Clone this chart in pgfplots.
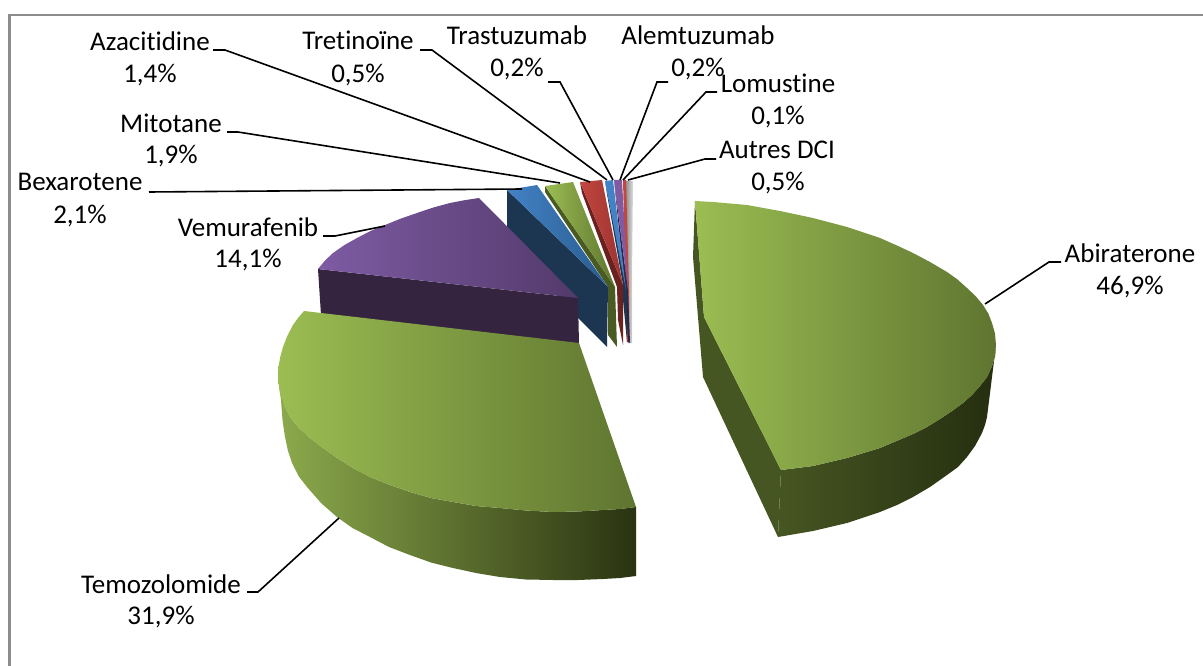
\documentclass[border=0pt]{standalone}
\usepackage{pgfplots}
\pgfplotsset{compat=1.18}
\usepackage{fontspec}
\setmainfont[Ligatures=NoCommon]{Carlito}
\definecolor{abL}{HTML}{9BBD52}
\definecolor{abR}{HTML}{5F7530}
\definecolor{abSL}{HTML}{465622}
\definecolor{abSR}{HTML}{252E10}
\definecolor{teSL}{HTML}{8CAA4C}
\definecolor{teSR}{HTML}{2A3311}
\definecolor{vemL}{HTML}{7E5BA3}
\definecolor{vemR}{HTML}{533A6B}
\definecolor{vemS}{HTML}{352440}
\definecolor{bexL}{HTML}{4382C6}
\definecolor{bexR}{HTML}{2A5C8F}
\definecolor{bexS}{HTML}{1C3551}
\definecolor{mitS}{HTML}{4A5A23}
\definecolor{redL}{HTML}{C4463F}
\definecolor{redR}{HTML}{9A3330}
\definecolor{redS}{HTML}{6A2220}
\definecolor{frameC}{HTML}{8C8C8C}
\tikzset{
  lead/.style={draw=black,line width=1.6pt,line join=miter},
  lab/.style={font=\fontsize{27}{27}\selectfont,text=black,inner sep=0pt,anchor=center},
}
\begin{document}
\begin{tikzpicture}
\path[use as bounding box] (0,0) rectangle (1203pt,666pt);
\begin{axis}[
  at={(0,0)},anchor=south west,
  scale only axis,width=1203pt,height=666pt,
  xmin=0,xmax=1203,ymin=0,ymax=666,y dir=reverse,
  hide axis,
  every axis plot/.append style={line width=0pt,draw=none,mark=none},
]
% frame
\addplot[draw=frameC,line width=2.6pt] coordinates {(9.5,666) (9.5,15) (1203,15)};
% tiny slices, back to front
\addplot[left color=gray!85,right color=gray!25] coordinates {(626,181)(633,181)(632,280)(632,343)(628,343)(626,280)} -- cycle;
\addplot[fill=redL] coordinates {(623,180)(626,180)(629,290)(629,342)(627,342)} -- cycle;
\addplot[fill=vemS] coordinates {(614,180)(628,290)(630,343)(628,342)(625,290)} -- cycle;
\addplot[fill=vemL] coordinates {(614,180)(622,180)(628,290)} -- cycle;
\addplot[fill=bexS] coordinates {(605,181)(607,194)(623,285)(623,300)(627,342)(627,290)} -- cycle;
\addplot[fill=bexL] coordinates {(605,181)(613,180)(626,290)} -- cycle;
% azacitidine
\addplot[fill=redS] coordinates {(580,182)(582,193)(617,287)(618,320)(623,345)(623,285)} -- cycle;
\addplot[left color=redL,right color=redR] coordinates {(580,182)(602,180)(623,285)} -- cycle;
% mitotane
\addplot[fill=mitS] coordinates {(545,186)(545,192)(608,287)(608,335)(617,347)(615,287)} -- cycle;
\addplot[left color=abL,right color=abR] coordinates {(545,186)(573,182)(615,287)} -- cycle;
% bexarotene
\addplot[fill=bexS] coordinates {(507,190)(507,228)(560,300)(578,318)(607,347)(608,287)} -- cycle;
\addplot[left color=bexL,right color=bexR] coordinates {(507,190)(537,185)(608,287)} -- cycle;
% vemurafenib
\addplot[fill=vemS] coordinates {(318,269)(321,315)(579,344)(578,298)} -- cycle;
\addplot[left color=vemL,right color=vemR] coordinates {(318,269)(325,260.5)(333,253)(344.5,245)(357,238)(370.5,231)(385,225)(400.5,218.7)(417,213)(433,207.6)(450,203)(464,200.3)(479,198)(578,298)} -- cycle;
% temozolomide
\addplot[left color=teSL,right color=teSR] coordinates {(278.5,382)(280,393)(281,400)(282.5,420)(285,437)(288,451)(292,463)(298.5,476)(307,487)(321,503)(337,517)(352.5,528)(370,537)(389,547)(410,555)(431,562.5)(453,568)(476,573)(500,577)(526,579.5)(553,580)(578,580)(603,579)(620,578)(636,576)(636,507)(620,509)(603,510)(578,511.5)(553,512)(526,510.5)(500,508)(476,506)(453,502)(431,498)(410,492)(390,485)(370,477)(353,468)(337,458)(323,448)(310,438)(299,428)(290,417)(284.5,406)} -- cycle;
\addplot[left color=abL,right color=abR] coordinates {(304,311)(298,318)(293,325)(287.5,335.5)(283,347)(280,358)(278,370)(278.5,382)(280,393)(284.5,406)(290,417)(299,428)(310,438)(323,448)(337,458)(353,468)(370,477)(390,485)(410,492)(431,498)(453,502)(476,506)(500,508)(526,510.5)(553,512)(578,511.5)(603,510)(620,509)(636,507)(579,343)} -- cycle;
% abiraterone
\addplot[fill=abSL] coordinates {(695,201)(693,257)(703,377)(778,537)(781,470)(704,317)} -- cycle;
\addplot[left color=abSL,right color=abSR] coordinates {(781,470)(778,537)(813,531)(847,523)(880,512)(897,505)(913,497)(930,487)(947,475)(958,467)(967,457)(975,446)(982,433)(985,425)(987,417)(996,345)(995,356.5)(992,366)(987,377)(980,386)(972,395)(963,403)(952,411)(940,419)(927,427)(913,434)(880,448)(847,458)(813,466)} -- cycle;
\addplot[left color=abL,right color=abR] coordinates {(695,201)(713,202)(747,205)(780,211)(813,218)(847,227)(880,238)(896.5,245.3)(913,253)(930,262)(947,272)(957.5,279.5)(967,288)(975.5,296)(983,305)(988.3,313.5)(992,323)(995,333.5)(996,345)(995,356.5)(992,366)(987,377)(980,386)(972,395)(963,403)(952,411)(940,419)(927,427)(913,434)(880,448)(847,458)(813,466)(781,470)(704,317)} -- cycle;
% leaders
\addplot[lead] coordinates {(213,50)(225,50)(590,182)};
\addplot[lead] coordinates {(420,50)(432,50)(607,180)};
\addplot[lead] coordinates {(227,132)(238,132)(560,183)};
\addplot[lead] coordinates {(149,192)(522,189)};
\addplot[lead] coordinates {(323,236)(335,236)(385,226)};
\addplot[lead] coordinates {(247,592)(258,592)(339,518)};
\addplot[lead] coordinates {(1061,262)(1049,262)(985,304)};
\addplot[lead] coordinates {(548,82)(560,82)(613,180)};
\addplot[lead] coordinates {(668,82)(657,82)(620,180)};
\addplot[lead] coordinates {(717,92)(706,92)(623,180)};
\addplot[lead] coordinates {(716,159)(705,159)(628,180)};
% labels
\node[lab] at (axis cs:150,41) {Azacitidine};
\node[lab] at (axis cs:150,75) {1,4\%};
\node[lab] at (axis cs:358,40) {Tretinoïne};
\node[lab] at (axis cs:358,75) {0,5\%};
\node[lab] at (axis cs:517,35) {Trastuzumab};
\node[lab] at (axis cs:517,69) {0,2\%};
\node[lab] at (axis cs:698,35) {Alemtuzumab};
\node[lab] at (axis cs:698,69) {0,2\%};
\node[lab] at (axis cs:778,83) {Lomustine};
\node[lab] at (axis cs:778,117) {0,1\%};
\node[lab] at (axis cs:777,150) {Autres DCI};
\node[lab] at (axis cs:778,183) {0,5\%};
\node[lab] at (axis cs:171,123) {Mitotane};
\node[lab] at (axis cs:171,156) {1,9\%};
\node[lab] at (axis cs:80,182) {Bexarotene};
\node[lab] at (axis cs:80,216) {2,1\%};
\node[lab] at (axis cs:248,227) {Vemurafenib};
\node[lab] at (axis cs:248,260) {14,1\%};
\node[lab] at (axis cs:161,584) {Temozolomide};
\node[lab] at (axis cs:161,617) {31,9\%};
\node[lab] at (axis cs:1130,253) {Abiraterone};
\node[lab] at (axis cs:1130,287) {46,9\%};
\end{axis}
\end{tikzpicture}
\end{document}
